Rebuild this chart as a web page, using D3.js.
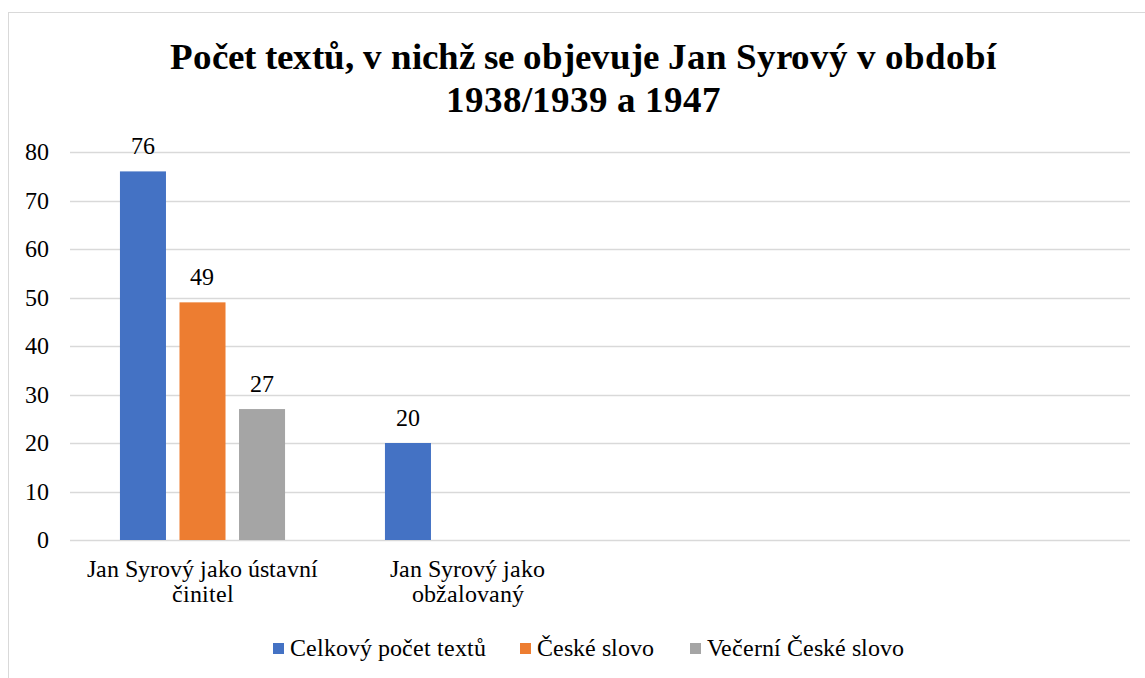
<!DOCTYPE html>
<html>
<head>
<meta charset="utf-8">
<script src="https://cdn.jsdelivr.net/npm/d3@7"></script>
<style>
  @font-face { font-family: "ChartSerif"; src: local("Liberation Serif"), local("LiberationSerif-Regular"); font-weight: 400; }
  @font-face { font-family: "ChartSerif"; src: local("Liberation Serif Bold"), local("LiberationSerif-Bold"); font-weight: 700; }
  body { margin: 0; background: #fff; }
</style>
</head>
<body>
<div id="chart"></div>
<script>
const FONT = "ChartSerif, 'Liberation Serif', serif";
const LABEL_SIZE = "23.5px";

// data
const categories = [
  ["Jan Syrový jako ústavní", "činitel"],
  ["Jan Syrový jako", "obžalovaný"],
  [""],
  [""]
];
const seriesNames = ["Celkový počet textů", "České slovo", "Večerní České slovo"];
const seriesColors = ["#4472C4", "#ED7D31", "#A5A5A5"];
// values per category (null = no bar)
const celkovy = [76, 20, null, null];
const ceskeSlovo = [49, null, null, null];
const vecerni = [27, null, null, null];
const yTicks = [0, 10, 20, 30, 40, 50, 60, 70, 80];

const width = 1145, height = 678;
const margin = {left: 70, right: 15, top: 152, bottom: 138};

const svg = d3.select("#chart").append("svg")
  .attr("width", width)
  .attr("height", height)
  .style("font-family", FONT);

// chart border
svg.append("rect")
  .attr("x", 8.5).attr("y", 12.5)
  .attr("width", width - 8).attr("height", height)
  .attr("fill", "none")
  .attr("stroke", "#D9D9D9");

const x0 = d3.scaleBand()
  .domain(d3.range(categories.length))
  .range([margin.left, width - margin.right])
  .paddingInner(0.377)
  .paddingOuter(0.1885);

const x1 = d3.scaleBand()
  .domain(d3.range(seriesNames.length))
  .range([0, x0.bandwidth()])
  .paddingInner(0.227);

const y = d3.scaleLinear()
  .domain([0, 80])
  .range([height - margin.bottom, margin.top]);

// gridlines
svg.append("g")
  .selectAll("line")
  .data(yTicks)
  .join("line")
  .attr("x1", margin.left)
  .attr("x2", width - margin.right)
  .attr("y1", d => Math.round(y(d)) + 0.5)
  .attr("y2", d => Math.round(y(d)) + 0.5)
  .attr("stroke", "#D9D9D9")
  .attr("stroke-width", 1.3);

// y axis labels
const yAxis = svg.append("g")
  .attr("transform", `translate(${margin.left},0)`)
  .call(d3.axisLeft(y).tickValues(yTicks).tickSize(0).tickPadding(21))
  .attr("font-size", null)
  .attr("font-family", null);
yAxis.select(".domain").remove();
yAxis.selectAll("text")
  .attr("fill", "#000")
  .style("font-size", LABEL_SIZE)
  .style("font-family", FONT);

// bars
const seriesData = [celkovy, ceskeSlovo, vecerni];
const groups = svg.append("g")
  .selectAll("g")
  .data(categories.map((c, i) => i))
  .join("g")
  .attr("transform", i => `translate(${x0(i)},0)`);

groups.selectAll("rect")
  .data(i => seriesData.map((s, k) => ({k, v: s[i]})).filter(d => d.v != null))
  .join("rect")
  .attr("x", d => x1(d.k))
  .attr("width", x1.bandwidth())
  .attr("y", d => y(d.v))
  .attr("height", d => y(0) - y(d.v))
  .attr("fill", d => seriesColors[d.k]);

// value labels
groups.selectAll("text.val")
  .data(i => seriesData.map((s, k) => ({k, v: s[i]})).filter(d => d.v != null))
  .join("text")
  .attr("class", "val")
  .attr("x", d => x1(d.k) + x1.bandwidth() / 2)
  .attr("y", d => y(d.v) - 17.5)
  .attr("text-anchor", "middle")
  .attr("fill", "#000")
  .style("font-size", LABEL_SIZE)
  .style("font-family", FONT)
  .text(d => d.v);

// category labels
const catLabels = svg.append("g")
  .selectAll("text")
  .data(categories)
  .join("text")
  .attr("x", (d, i) => x0(i) + x0.bandwidth() / 2)
  .attr("y", y(0) + 37)
  .attr("text-anchor", "middle")
  .attr("fill", "#000")
  .style("font-size", LABEL_SIZE)
  .style("font-family", FONT);
catLabels.selectAll("tspan")
  .data(d => d)
  .join("tspan")
  .attr("x", function() { return this.parentNode.getAttribute("x"); })
  .attr("dy", (d, i) => i === 0 ? 0 : 25)
  .text(d => d);

// title
const title = svg.append("text")
  .attr("x", 583)
  .attr("y", 69)
  .attr("text-anchor", "middle")
  .attr("fill", "#000")
  .style("font-size", "37px")
  .style("font-weight", "bold")
  .style("font-family", FONT);
title.append("tspan").attr("x", 583).text("Počet textů, v nichž se objevuje Jan Syrový v období");
title.append("tspan").attr("x", 583).attr("dy", 43).text("1938/1939 a 1947");

// legend
const legendX = [273, 520, 690];
const legend = svg.append("g")
  .selectAll("g")
  .data(seriesNames)
  .join("g")
  .attr("transform", (d, i) => `translate(${legendX[i]},648)`);
legend.append("rect")
  .attr("x", 0).attr("y", -5)
  .attr("width", 11).attr("height", 11)
  .attr("fill", (d, i) => seriesColors[i]);
legend.append("text")
  .attr("x", 17)
  .attr("y", 7.5)
  .attr("fill", "#000")
  .style("font-size", LABEL_SIZE)
  .style("font-family", FONT)
  .text(d => d);
</script>
</body>
</html>
